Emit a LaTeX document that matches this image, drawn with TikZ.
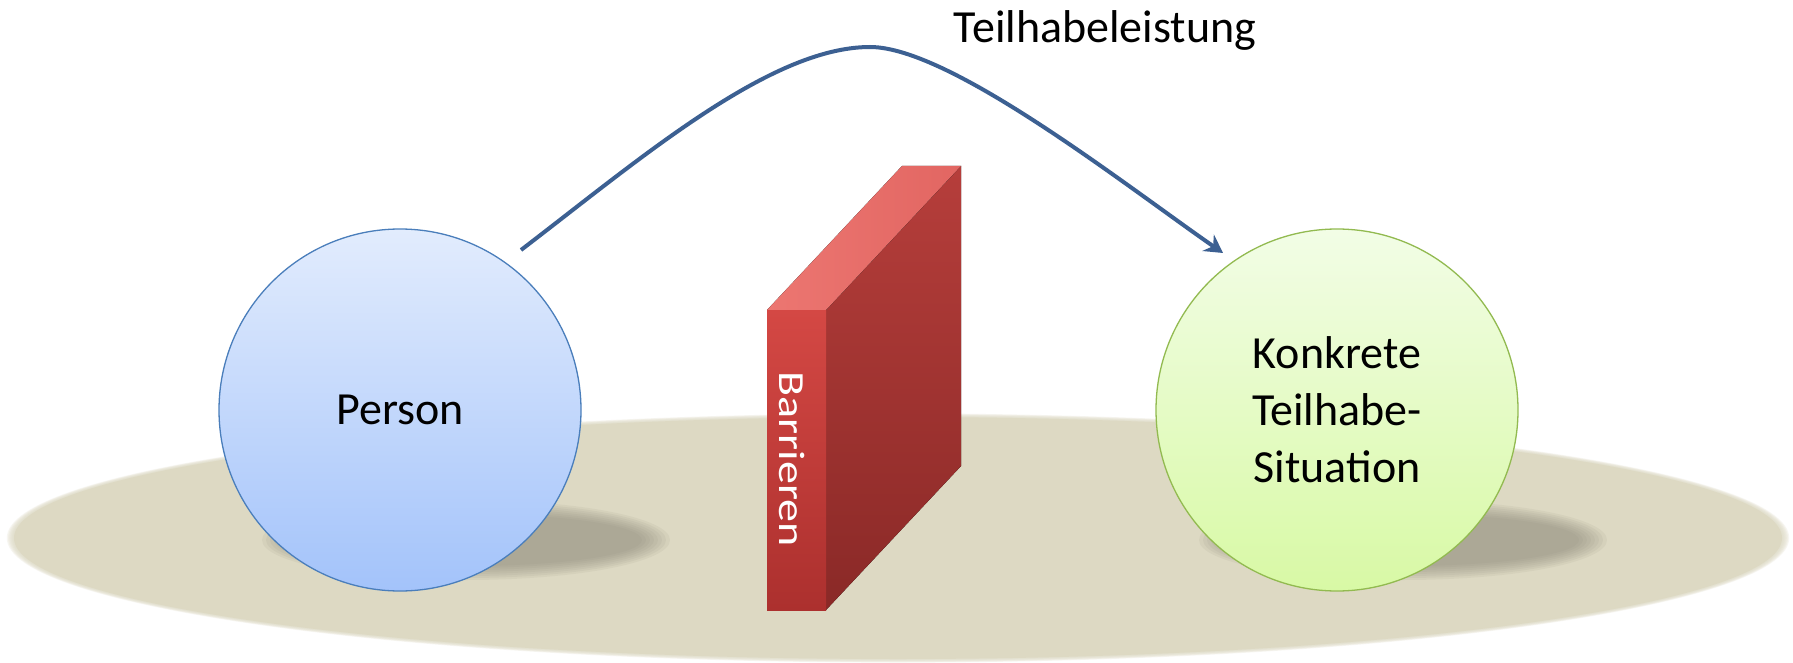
\documentclass[tikz,border=0pt]{standalone}
\usepackage{fontspec}
\setmainfont{Carlito}
\usetikzlibrary{arrows.meta}
\definecolor{groundc}{RGB}{221,217,195}
\definecolor{shadowc}{RGB}{130,127,112}
\definecolor{arcc}{RGB}{60,96,146}
\definecolor{pborder}{RGB}{74,126,187}
\definecolor{ptop}{RGB}{226,236,253}
\definecolor{pbot}{RGB}{163,195,250}
\definecolor{sborder}{RGB}{146,186,80}
\definecolor{stopc}{RGB}{242,253,230}
\definecolor{sbot}{RGB}{216,249,165}
\definecolor{frontTop}{RGB}{212,72,68}
\definecolor{frontBot}{RGB}{172,48,46}
\definecolor{topA}{RGB}{236,118,113}
\definecolor{topB}{RGB}{226,102,98}
\definecolor{sideTop}{RGB}{182,62,59}
\definecolor{sideBot}{RGB}{138,41,39}
\begin{document}
\begin{tikzpicture}[x=1pt,y=-1pt,
  bigtext/.style={font=\fontsize{46}{57}\selectfont, text=black},
  ball/.style={circle, minimum size=362pt, inner sep=0pt, line width=1.3pt, align=center},
  arcline/.style={draw=arcc, line width=4pt, -{Stealth[length=18pt,width=20pt,inset=6pt]}},
  walltext/.style={font=\fontsize{46}{57}\selectfont, text=white, inner sep=0pt},
]
\useasboundingbox (0,0) rectangle (1793,663);
\fill[white] (0,0) rectangle (1793,663);
% ground
\foreach \k in {6,5,4,3,2,1}{
  \pgfmathsetmacro\rx{884+\k*1.2}
  \pgfmathsetmacro\ry{121+\k*0.6}
  \fill[groundc, opacity=0.22] (898,538) ellipse (\rx pt and \ry pt);
}
\fill[groundc] (898,538) ellipse (884pt and 121pt);
% shadows
\foreach \cx in {466,1403}{
  \foreach \k in {0,...,7}{
    \pgfmathsetmacro\rx{204-\k*4}
    \pgfmathsetmacro\ry{40-\k*2}
    \fill[shadowc, opacity=0.085] (\cx,540) ellipse (\rx pt and \ry pt);
  }
}
% circles
\node[ball, draw=pborder, top color=ptop, bottom color=pbot, bigtext] (person) at (400,410) {Person};
\node[ball, draw=sborder, top color=stopc, bottom color=sbot, bigtext] (situation) at (1337,410) {Konkrete\\Teilhabe-\\Situation};
% wall
\fill[top color=sideTop, bottom color=sideBot] (826,310) -- (961,166) -- (961,466) -- (826,610) -- cycle;
\fill[left color=topA, right color=topB] (767,310) -- (902,166) -- (961,166) -- (826,310) -- cycle;
\fill[top color=frontTop, bottom color=frontBot] (767,310) rectangle (826,610);
\node[walltext] (barrier) at (792,459) {\rotatebox{-90}{\scalebox{1}[0.8]{Barrieren}}};
% label
\node[bigtext, anchor=base] (title) at (1105,43) {Teilhabeleistung};
% arc
\coordinate (a0) at (521,250);
\coordinate (a1) at (1223,253);
\draw[arcline] (a0) .. controls (640,159) and (770,47) .. (870,47) .. controls (950,47) and (1125,185) .. (a1);
\end{tikzpicture}
\end{document}
